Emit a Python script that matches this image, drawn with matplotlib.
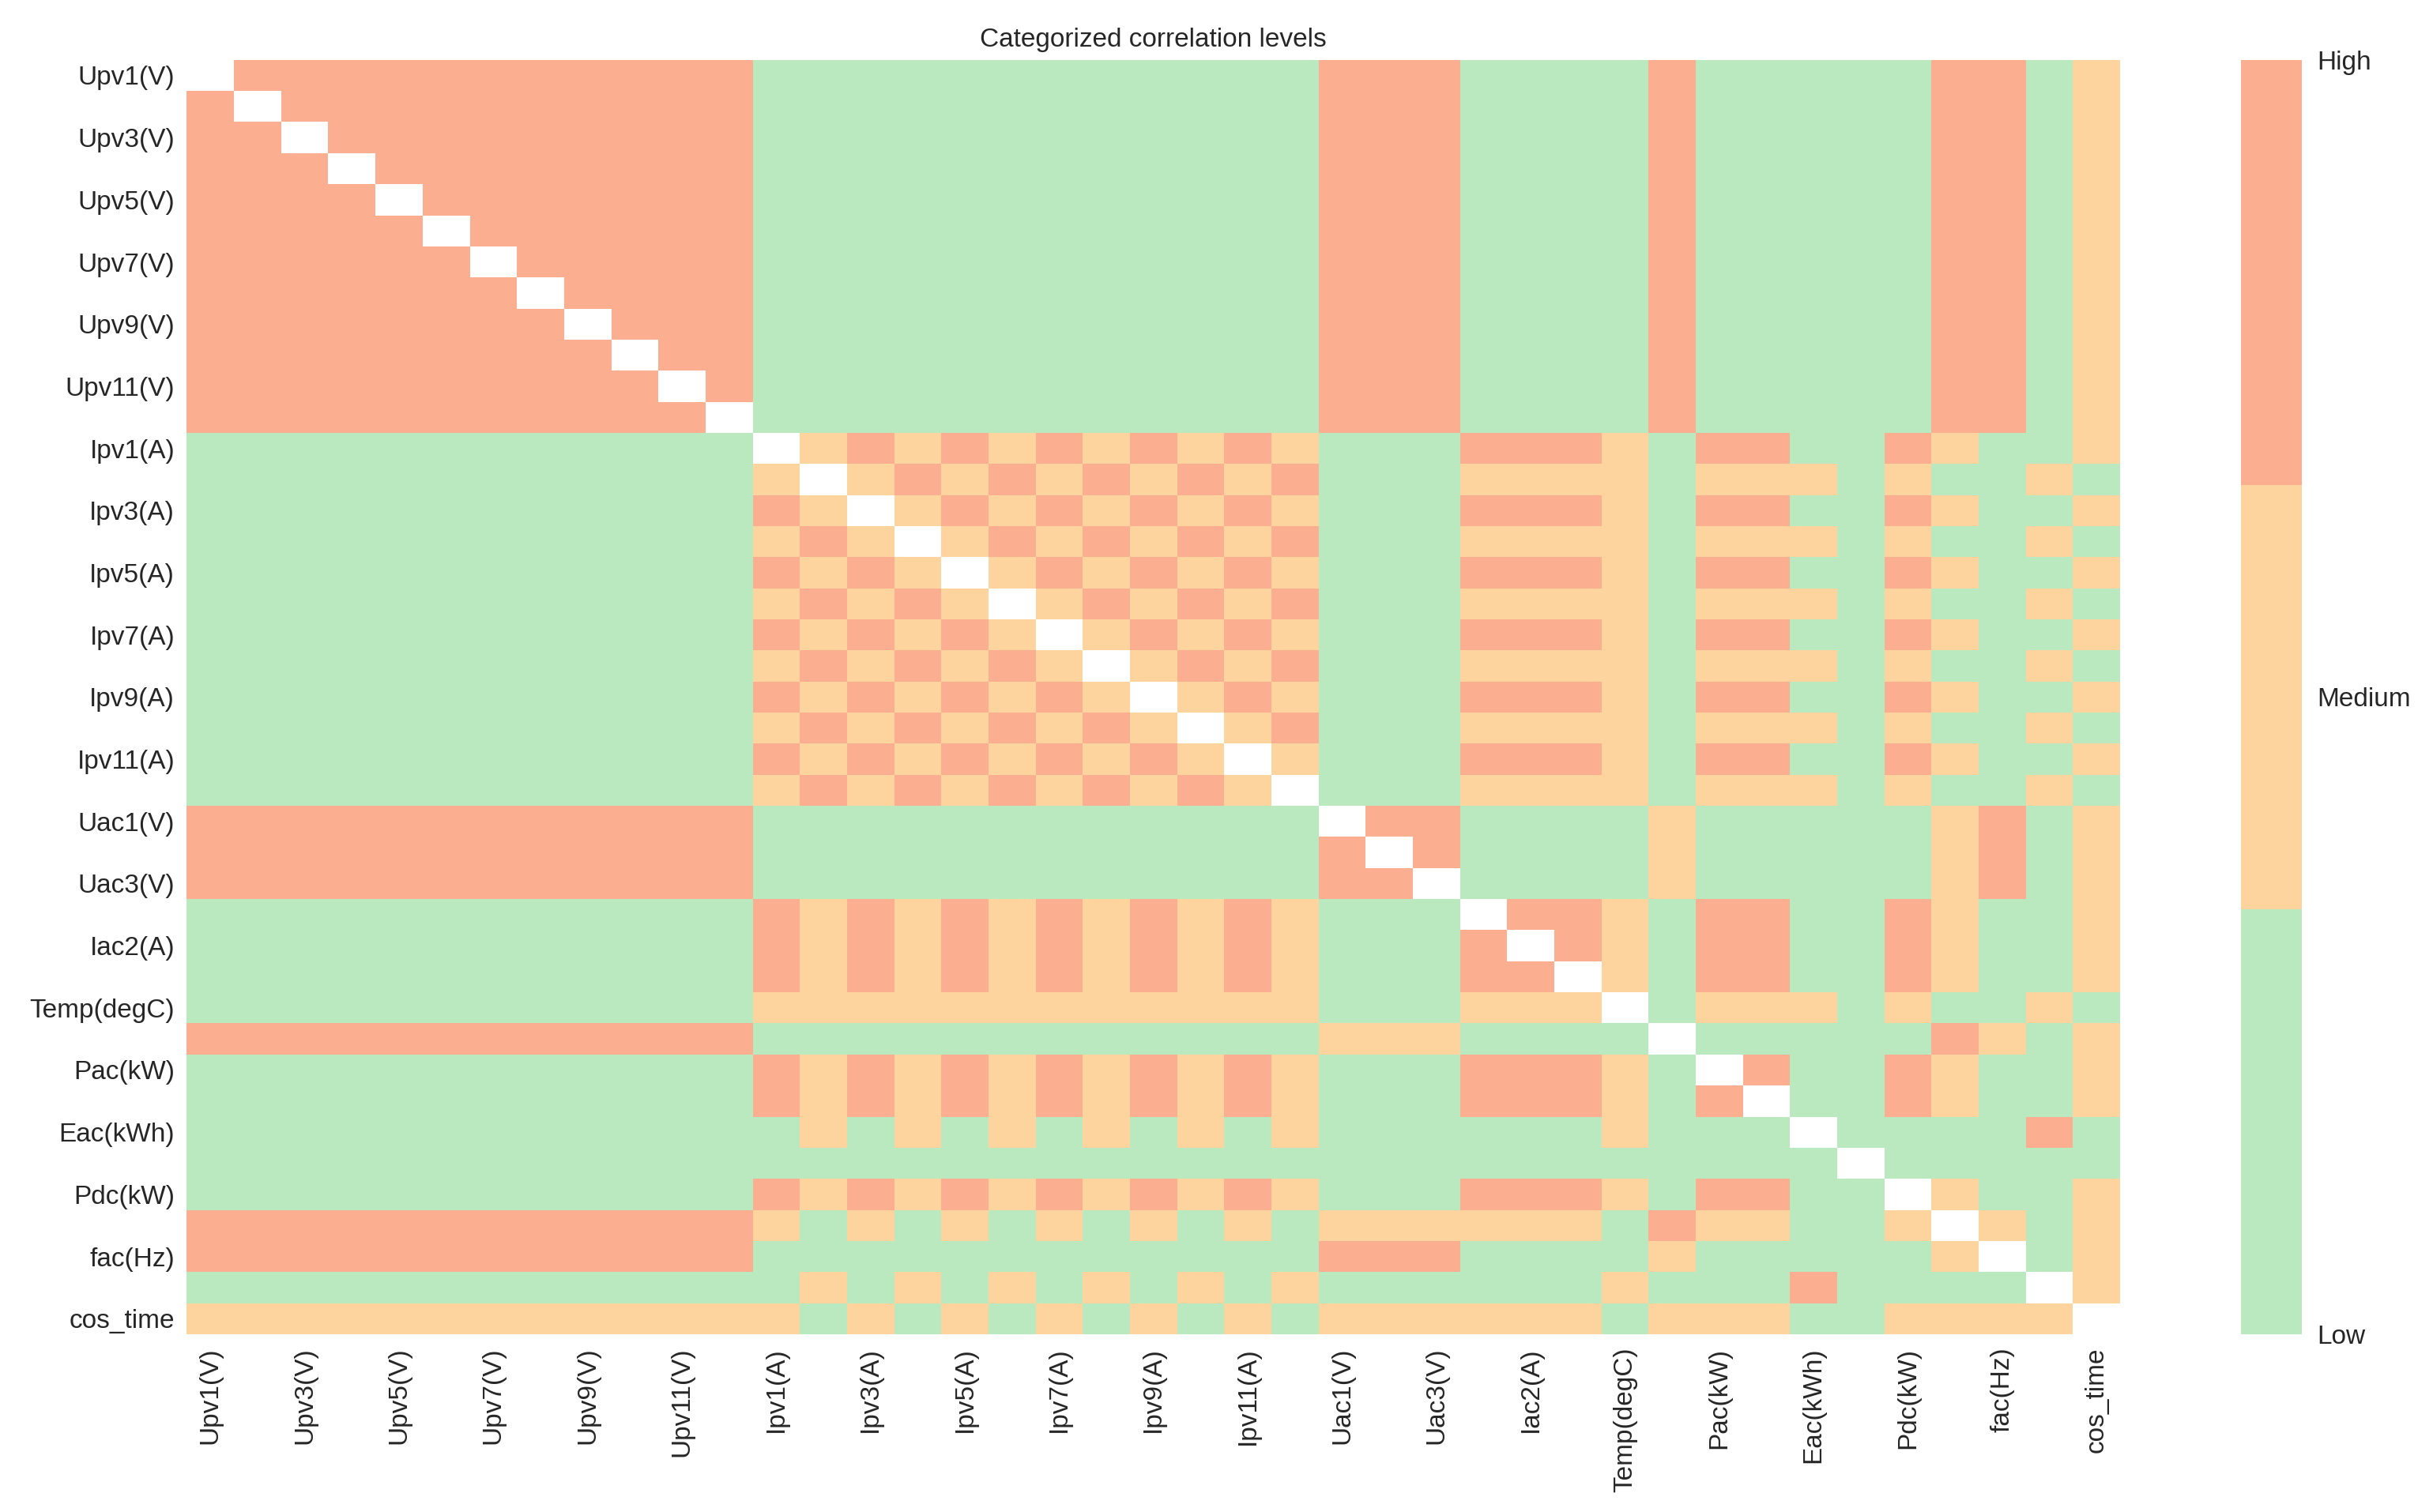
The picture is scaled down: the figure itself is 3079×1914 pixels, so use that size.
import numpy as np
import matplotlib
matplotlib.use("Agg")
import matplotlib.pyplot as plt
from matplotlib.colors import ListedColormap

# ---- data -------------------------------------------------------------
variables = (
    [f"Upv{i}(V)" for i in range(1, 13)]
    + [f"Ipv{i}(A)" for i in range(1, 13)]
    + ["Uac1(V)", "Uac2(V)", "Uac3(V)", "Iac1(A)", "Iac2(A)", "Iac3(A)",
       "Temp(degC)", "Efficiency(%)", "Pac(kW)", "Qac(kVar)", "Eac(kWh)",
       "E-Total(kWh)", "Pdc(kW)", "PF", "fac(Hz)", "sin_time", "cos_time"]
)

level_names = ["Low", "Medium", "High"]
level_colors = ["#BAE9C0", "#FDD49E", "#FCAE91"]

# Category of each cell: L = Low, M = Medium, H = High, . = diagonal (blank)
level_rows = [
    ".HHHHHHHHHHHLLLLLLLLLLLLHHHLLLLHLLLLLHHLM",  # Upv1
    "H.HHHHHHHHHHLLLLLLLLLLLLHHHLLLLHLLLLLHHLM",
    "HH.HHHHHHHHHLLLLLLLLLLLLHHHLLLLHLLLLLHHLM",
    "HHH.HHHHHHHHLLLLLLLLLLLLHHHLLLLHLLLLLHHLM",
    "HHHH.HHHHHHHLLLLLLLLLLLLHHHLLLLHLLLLLHHLM",
    "HHHHH.HHHHHHLLLLLLLLLLLLHHHLLLLHLLLLLHHLM",
    "HHHHHH.HHHHHLLLLLLLLLLLLHHHLLLLHLLLLLHHLM",
    "HHHHHHH.HHHHLLLLLLLLLLLLHHHLLLLHLLLLLHHLM",
    "HHHHHHHH.HHHLLLLLLLLLLLLHHHLLLLHLLLLLHHLM",
    "HHHHHHHHH.HHLLLLLLLLLLLLHHHLLLLHLLLLLHHLM",
    "HHHHHHHHHH.HLLLLLLLLLLLLHHHLLLLHLLLLLHHLM",
    "HHHHHHHHHHH.LLLLLLLLLLLLHHHLLLLHLLLLLHHLM",  # Upv12
    "LLLLLLLLLLLL.MHMHMHMHMHMLLLHHHMLHHLLHMLLM",  # Ipv1
    "LLLLLLLLLLLLM.MHMHMHMHMHLLLMMMMLMMMLMLLML",
    "LLLLLLLLLLLLHM.MHMHMHMHMLLLHHHMLHHLLHMLLM",
    "LLLLLLLLLLLLMHM.MHMHMHMHLLLMMMMLMMMLMLLML",
    "LLLLLLLLLLLLHMHM.MHMHMHMLLLHHHMLHHLLHMLLM",
    "LLLLLLLLLLLLMHMHM.MHMHMHLLLMMMMLMMMLMLLML",
    "LLLLLLLLLLLLHMHMHM.MHMHMLLLHHHMLHHLLHMLLM",
    "LLLLLLLLLLLLMHMHMHM.MHMHLLLMMMMLMMMLMLLML",
    "LLLLLLLLLLLLHMHMHMHM.MHMLLLHHHMLHHLLHMLLM",
    "LLLLLLLLLLLLMHMHMHMHM.MHLLLMMMMLMMMLMLLML",
    "LLLLLLLLLLLLHMHMHMHMHM.MLLLHHHMLHHLLHMLLM",
    "LLLLLLLLLLLLMHMHMHMHMHM.LLLMMMMLMMMLMLLML",  # Ipv12
    "HHHHHHHHHHHHLLLLLLLLLLLL.HHLLLLMLLLLLMHLM",  # Uac1
    "HHHHHHHHHHHHLLLLLLLLLLLLH.HLLLLMLLLLLMHLM",
    "HHHHHHHHHHHHLLLLLLLLLLLLHH.LLLLMLLLLLMHLM",
    "LLLLLLLLLLLLHMHMHMHMHMHMLLL.HHMLHHLLHMLLM",  # Iac1
    "LLLLLLLLLLLLHMHMHMHMHMHMLLLH.HMLHHLLHMLLM",
    "LLLLLLLLLLLLHMHMHMHMHMHMLLLHH.MLHHLLHMLLM",
    "LLLLLLLLLLLLMMMMMMMMMMMMLLLMMM.LMMMLMLLML",  # Temp
    "HHHHHHHHHHHHLLLLLLLLLLLLMMMLLLL.LLLLLHMLM",
    "LLLLLLLLLLLLHMHMHMHMHMHMLLLHHHML.HLLHMLLM",  # Pac
    "LLLLLLLLLLLLHMHMHMHMHMHMLLLHHHMLH.LLHMLLM",
    "LLLLLLLLLLLLLMLMLMLMLMLMLLLLLLMLLL.LLLLHL",  # Eac
    "LLLLLLLLLLLLLLLLLLLLLLLLLLLLLLLLLLL.LLLLL",
    "LLLLLLLLLLLLHMHMHMHMHMHMLLLHHHMLHHLL.MLLM",  # Pdc
    "HHHHHHHHHHHHMLMLMLMLMLMLMMMMMMLHMMLLM.MLM",
    "HHHHHHHHHHHHLLLLLLLLLLLLHHHLLLLMLLLLLM.LM",  # fac
    "LLLLLLLLLLLLLMLMLMLMLMLMLLLLLLMLLLHLLLL.M",
    "MMMMMMMMMMMMMLMLMLMLMLMLMMMMMMLMMMLLMMMM.",  # cos_time
]

# ---- build matrix -------------------------------------------------------
code = {"L": 0.0, "M": 1.0, "H": 2.0, ".": np.nan}
mat = np.array([[code[c] for c in row] for row in level_rows])
masked = np.ma.masked_invalid(mat)

plt.rcParams["font.family"] = ["Liberation Sans", "DejaVu Sans"]
plt.rcParams["text.color"] = "#262626"

fig = plt.figure(figsize=(3079 / 200, 1914 / 200), dpi=200)
ax = fig.add_axes([0.0768, 0.1176, 0.7946, 0.8428])
cax = fig.add_axes([0.9211, 0.1176, 0.0250, 0.8428])

cmap = ListedColormap(level_colors)
n = len(variables)
mesh = ax.pcolormesh(np.arange(n + 1), np.arange(n + 1), masked,
                     cmap=cmap, vmin=0, vmax=2)
ax.set_xlim(0, n)
ax.set_ylim(n, 0)
for s in ax.spines.values():
    s.set_visible(False)

ticks = np.arange(0, n, 2)
ax.set_xticks(ticks + 0.5)
ax.set_xticklabels([variables[i] for i in ticks], rotation=90, fontsize=12,
                   color="#262626")
ax.set_yticks(ticks + 0.5)
ax.set_yticklabels([variables[i] for i in ticks], rotation=0, fontsize=12,
                   color="#262626")
ax.tick_params(axis="both", length=0)
ax.tick_params(axis="y", pad=5.5)
ax.tick_params(axis="x", pad=6)
ax.set_title("Categorized correlation levels", fontsize=12, color="#262626")

cb = fig.colorbar(mesh, cax=cax)
cb.set_ticks([0, 1, 2])
cb.set_ticklabels(level_names)
cb.outline.set_visible(False)
cax.tick_params(length=0, pad=7, labelsize=12, labelcolor="#262626")

fig.savefig("out.png", dpi=200)
